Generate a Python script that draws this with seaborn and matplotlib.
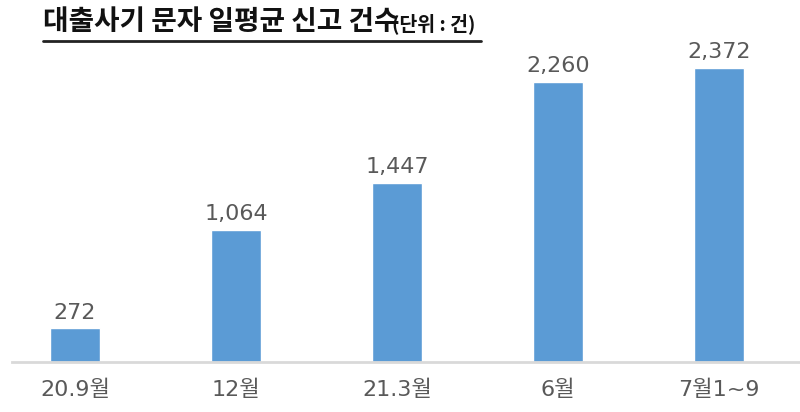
import matplotlib
matplotlib.use("Agg")
import matplotlib.pyplot as plt
import seaborn as sns
import pandas as pd
from matplotlib.lines import Line2D

# data
periods = ["20.9월", "12월", "21.3월", "6월", "7월1~9"]
daily_reports = [272, 1064, 1447, 2260, 2372]

sns.set_theme(style="white")
plt.rcParams["font.family"] = ["DejaVu Sans", "Noto Sans CJK KR"]

df = pd.DataFrame({"period": periods, "reports": daily_reports})

fig = plt.figure(figsize=(8, 4.12), dpi=100)
ax = fig.add_axes([12 / 800, 50 / 412, 788 / 800, 302 / 412])

sns.barplot(data=df, x="period", y="reports", color="#5B9BD5",
            saturation=1, width=0.31, ax=ax)

ax.set_xlim(-0.391, 4.503)
ax.set_ylim(0, 2435)

for i, v in enumerate(daily_reports):
    ax.text(i, v + 45, f"{v:,}", ha="center", va="bottom",
            fontsize=16, color="#595959")

for side in ["top", "right", "left"]:
    ax.spines[side].set_visible(False)
ax.spines["bottom"].set_color("#D9D9D9")
ax.spines["bottom"].set_linewidth(2)
ax.set_yticks([])
ax.set_xlabel("")
ax.set_ylabel("")
ax.tick_params(axis="x", length=0, pad=13, labelsize=16, labelcolor="#595959")

# title with underline
title_font = ["Noto Sans CJK KR", "DejaVu Sans"]
fig.text(43 / 800, 1 - 22 / 412, "대출사기 문자 일평균 신고 건수",
         ha="left", va="center", fontsize=20, fontweight="bold",
         color="#111111", family=title_font)
fig.text(392 / 800, 1 - 24 / 412, "(단위 : 건)",
         ha="left", va="center", fontsize=14, fontweight="bold",
         color="#111111", family=title_font)
fig.add_artist(Line2D([43 / 800, 481 / 800], [1 - 41 / 412, 1 - 41 / 412],
                      color="#222222", linewidth=2, transform=fig.transFigure))

fig.savefig("out.png", dpi=100)
